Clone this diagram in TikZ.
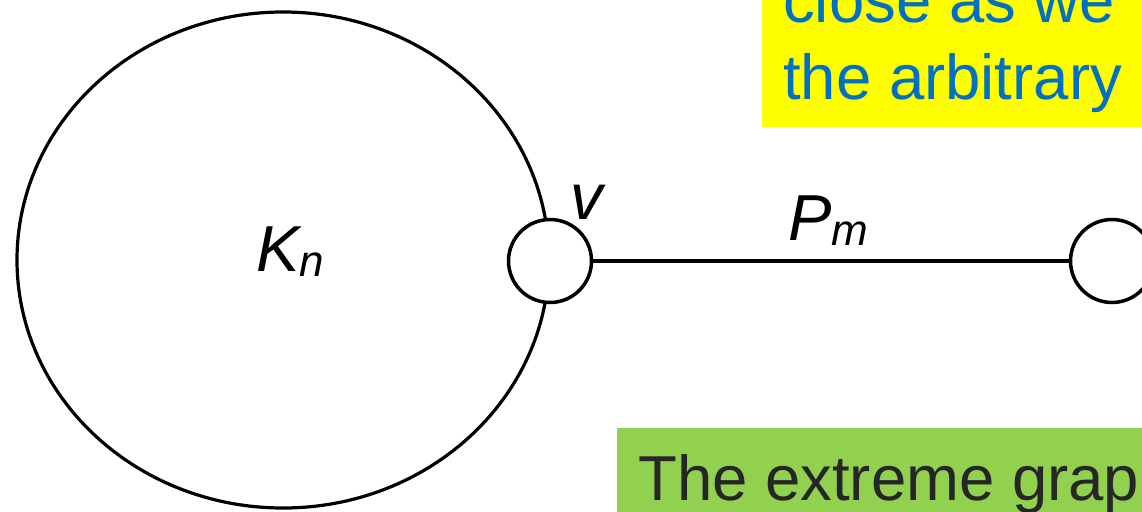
\documentclass[tikz,border=0pt]{standalone}
\usepackage{fontspec}
\setmainfont{Liberation Sans}
\usetikzlibrary{shapes.geometric, positioning}
\definecolor{noteblue}{RGB}{0,112,192}
\definecolor{noteyellow}{RGB}{255,255,0}
\definecolor{notegreen}{RGB}{146,208,80}
\definecolor{notetext}{RGB}{38,38,38}
\newcommand{\lblsub}[2]{#1\raisebox{-5pt}{\fontsize{44}{44}\selectfont #2}}

\begin{document}
\begin{tikzpicture}[
        x=1pt, y=-1pt,
        clique/.style={ellipse, draw, line width=3.2pt, minimum width=532pt, minimum height=496pt, inner sep=0pt},
        vertex/.style={circle, draw, line width=3.5pt, fill=white, minimum size=83pt, inner sep=0pt},
        pathline/.style={line width=4pt},
        lbl/.style={font=\fontsize{65}{65}\selectfont\itshape, inner sep=0pt},
        note/.style={font=\fontsize{63.5}{76}\selectfont, inner sep=0pt},
        notebox/.style={inner sep=0pt}
    ]
    \useasboundingbox (0,0) rectangle (1142,511);
    \clip (0,0) rectangle (1142,511);

    \node[clique] (kn) at (283,260) {};
    \node[vertex] (v) at (550,261) {};
    \node[vertex] (w) at (1112,261) {};

    \draw[pathline] (v) -- (w);

    \node[lbl, anchor=base west] (knlab) at (256,271) {\lblsub{K}{n}};
    \node[lbl, anchor=base west] (vlab) at (570,219) {v};
    \node[lbl, anchor=base west] (pmlab) at (788,240) {\lblsub{P}{m}};

    % notes cut by the frame
    \node[notebox, fill=noteyellow, minimum width=420pt, minimum height=200pt, anchor=south west] (topnote) at (762,127) {};
    \node[note, text=noteblue, anchor=base west] (topline1) at (783,23) {close as we};
    \node[note, text=noteblue, anchor=base west] (topline2) at (783,99) {the arbitrary};

    \node[notebox, fill=notegreen, minimum width=560pt, minimum height=120pt, anchor=north west] (botnote) at (617,428) {};
    \node[note, text=notetext, anchor=base west] (botline) at (638,500) {The extreme grap};
\end{tikzpicture}
\end{document}
